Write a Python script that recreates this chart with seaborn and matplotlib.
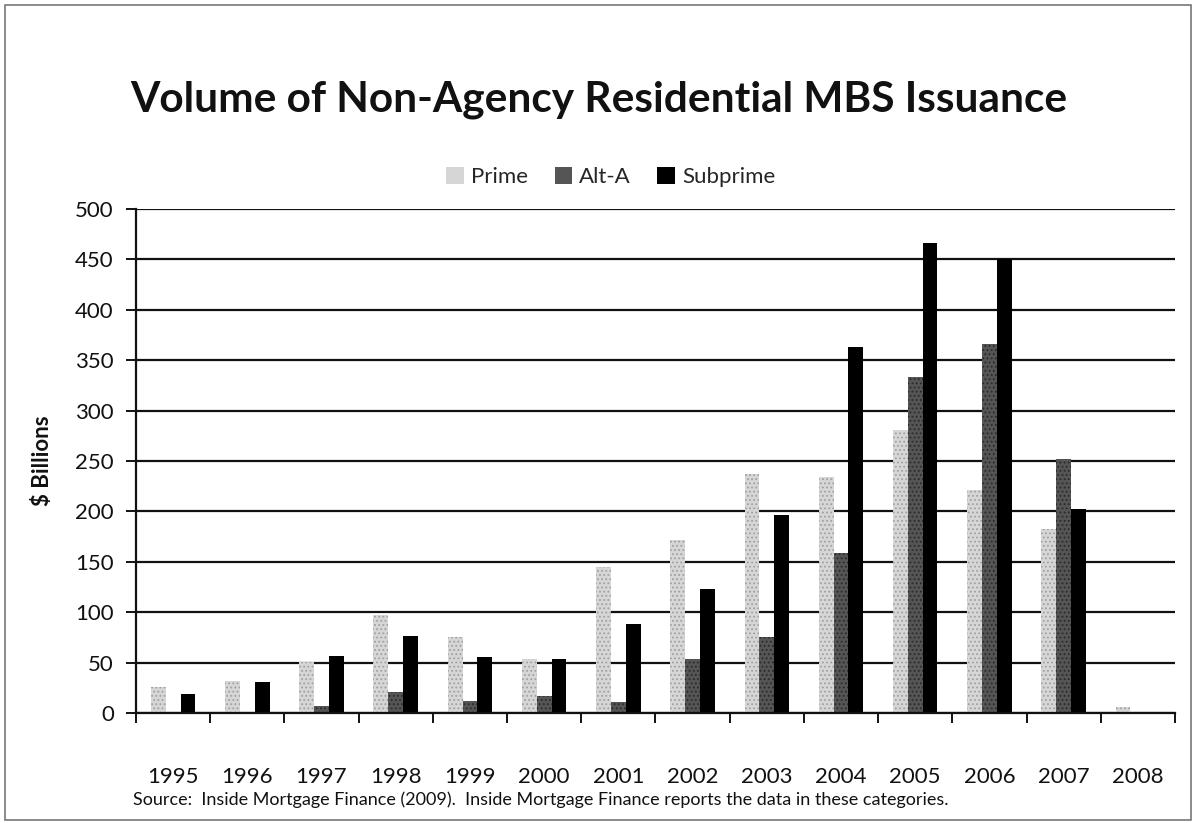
import matplotlib
matplotlib.use("Agg")
import matplotlib.pyplot as plt
import seaborn as sns
import pandas as pd
from matplotlib.patches import Rectangle

years = ["1995", "1996", "1997", "1998", "1999", "2000", "2001",
         "2002", "2003", "2004", "2005", "2006", "2007", "2008"]
prime = [26, 32, 51, 97, 75, 54, 145, 172, 237, 234, 281, 221, 183, 6]
alt_a = [1, 1, 7, 21, 12, 17, 11, 54, 75, 159, 333, 366, 252, 1]
subprime = [19, 31, 57, 76, 56, 54, 88, 123, 196, 363, 466, 450, 202, 0]
series_names = ["Prime", "Alt-A", "Subprime"]

df = pd.DataFrame({
    "Year": years * 3,
    "Value": prime + alt_a + subprime,
    "Series": [series_names[0]] * len(years) + [series_names[1]] * len(years) + [series_names[2]] * len(years),
})

sns.set_theme(style="white")
plt.rcParams["font.family"] = ["Lato", "DejaVu Sans"]
plt.rcParams["hatch.linewidth"] = 0.8

fig = plt.figure(figsize=(11.96, 8.23), dpi=100)
ax = fig.add_axes([0.1137, 0.1337, 0.8687, 0.6123])

palette = {"Prime": "#d6d6d6", "Alt-A": "#555555", "Subprime": "#000000"}
sns.barplot(data=df, x="Year", y="Value", hue="Series", order=years,
            hue_order=series_names, palette=palette, width=0.6, gap=0,
            saturation=1, ax=ax, legend=True, linewidth=0)

hatches = {"Prime": ("....", "#a0a0a0"), "Alt-A": ("....", "#2a2a2a")}
for cont, name in zip(ax.containers, series_names):
    if name in hatches:
        h, ec = hatches[name]
        for p in cont:
            p.set_hatch(h)
            p.set_edgecolor(ec)
            p.set_linewidth(0)

ax.set_ylim(0, 500)
ax.set_xlim(-0.5, len(years) - 0.5)
ax.set_yticks(range(0, 501, 50))
ax.yaxis.grid(True, color="#111111", linewidth=1.6)
ax.set_axisbelow(True)
for s in ["top", "right"]:
    ax.spines[s].set_visible(False)
ax.spines["left"].set_color("#111111")
ax.spines["left"].set_linewidth(1.6)
ax.spines["bottom"].set_color("#111111")
ax.spines["bottom"].set_linewidth(1.6)

ax.tick_params(axis="y", which="major", left=True, length=7, width=1.4,
               color="#111111", labelsize=16, pad=9, labelcolor="#111111")
ax.tick_params(axis="x", which="major", bottom=False, labelsize=16,
               pad=33, labelcolor="#111111")
ax.set_xticks(range(len(years)))
ax.set_xticklabels(years)
ax.set_xticks([i - 0.5 for i in range(len(years) + 1)], minor=True)
ax.tick_params(axis="x", which="minor", bottom=True, length=7, width=1.4,
               color="#111111", direction="out")

ax.set_xlabel("")
ax.set_ylabel("$ Billions", fontsize=16, fontweight="bold", labelpad=16,
              color="#111111")

leg = ax.legend(loc="lower center", bbox_to_anchor=(0.457, 1.012), ncol=3, frameon=False,
                fontsize=16, handlelength=0.8, handleheight=0.8, handletextpad=0.3,
                columnspacing=1.2, borderaxespad=0.3)

fig.text(0.109, 0.879, "Volume of Non-Agency Residential MBS Issuance",
         fontsize=30.5, fontweight="bold", color="#111111", ha="left", va="center")
fig.text(0.111, 0.028, "Source:  Inside Mortgage Finance (2009).  Inside Mortgage Finance reports the data in these categories.",
         fontsize=13, color="#111111", ha="left", va="center")

fig.patches.append(Rectangle((0.004, 0.004), 0.992, 0.99, transform=fig.transFigure,
                             fill=False, edgecolor="#777777", linewidth=1.2))

fig.savefig("out.png", dpi=100, facecolor="white")
